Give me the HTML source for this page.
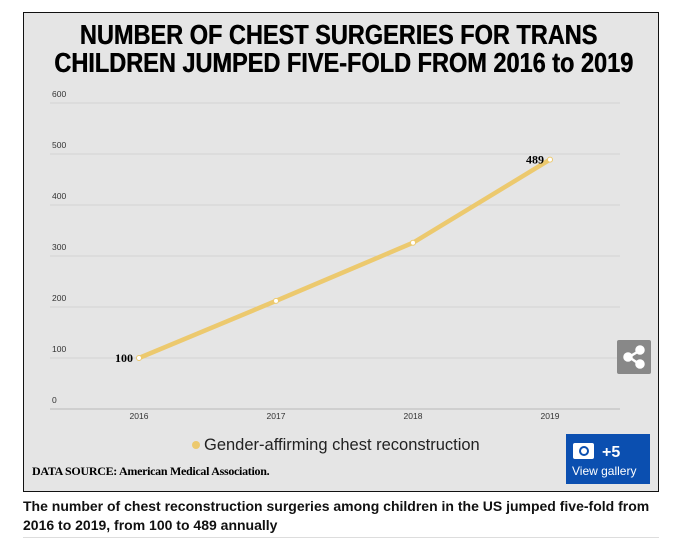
<!DOCTYPE html>
<html><head><meta charset="utf-8"><style>
body{margin:0;width:677px;height:548px;background:#fff;font-family:"Liberation Sans",sans-serif;position:relative;overflow:hidden}
#box{position:absolute;left:23px;top:12px;width:634px;height:478px;border:1px solid #111;background:#e5e5e5}
h1{position:absolute;left:0;width:677px;top:21px;margin:0;text-align:center;white-space:nowrap;font-family:"Liberation Sans",sans-serif;font-weight:bold;font-size:28px;line-height:28px;transform:scaleX(0.84);color:#000;text-shadow:0.5px 0 0 #000}
#src{position:absolute;left:32px;top:464px;font-family:"Liberation Serif",serif;font-weight:bold;font-size:12px;letter-spacing:-0.3px}
#gal{position:absolute;left:566px;top:434px;width:84px;height:50px;background:#0b4fb0;color:#fff}
#share{position:absolute;left:617px;top:340px;width:34px;height:34px;background:#888;border-radius:2px}
#cap{position:absolute;left:23px;top:497px;width:640px;font-size:14px;line-height:19px;font-weight:bold;color:#111}
#rule{position:absolute;left:23px;top:537px;width:636px;height:1px;background:#ddd}
</style></head><body>
<div id="box"></div>
<h1>NUMBER OF CHEST SURGERIES FOR TRANS<br>CHILDREN JUMPED FIVE-FOLD FROM 2016 to 2019</h1>
<svg id="chart" width="677" height="548" style="position:absolute;left:0;top:0"></svg>
<div id="src">DATA SOURCE: American Medical Association.</div>
<div id="share"><svg width="34" height="34"><g fill="#fff" stroke="#fff" stroke-width="2.5"><line x1="12" y1="17" x2="22" y2="11"/><line x1="12" y1="17" x2="22" y2="24"/><circle cx="11" cy="17" r="3.5"/><circle cx="23" cy="10" r="3.5"/><circle cx="23" cy="24" r="3.5"/></g></svg></div>
<div id="gal">
<svg width="84" height="30" style="position:absolute;left:0;top:0"><rect x="7" y="9" width="21" height="16" rx="2" fill="#fff"/><circle cx="18" cy="17" r="5" fill="#0b4fb0"/><circle cx="18" cy="17" r="3" fill="#fff"/><text x="36" y="23" fill="#fff" font-size="16" font-weight="bold" font-family="Liberation Sans">+5</text></svg>
<div style="position:absolute;left:6px;top:30px;font-size:12px">View gallery</div></div>
<div id="cap">The number of chest reconstruction surgeries among children in the US jumped five-fold from 2016 to 2019, from 100 to 489 annually</div>
<div id="rule"></div>
<script>
const years=["2016","2017","2018","2019"];
const values=[100,212,326,489];
const yTicks=[0,100,200,300,400,500,600];
const labeled=[0,3];
const svg=document.getElementById('chart');const NS="http://www.w3.org/2000/svg";
const x0=139,dx=137,y0=409,ys=0.51;
const X=i=>x0+i*dx, Y=v=>y0-v*ys;
function mk(t,a,txt){const e=document.createElementNS(NS,t);for(const k in a)e.setAttribute(k,a[k]);if(txt!=null)e.textContent=txt;svg.appendChild(e);return e;}
yTicks.forEach(v=>{
const g=mk('line',{x1:50,x2:620,y1:Y(v),y2:Y(v),stroke:v===0?'#c8c8c8':'#d2d2d2','stroke-width':v===0?1.5:1});

const t=mk('text',{x:52,y:Y(v)-6,'font-size':8.5,fill:'#333','font-family':'Liberation Sans'},v);
});
years.forEach((y,i)=>{const t=mk('text',{x:X(i),y:419,'font-size':8.5,fill:'#333','text-anchor':'middle','font-family':'Liberation Sans'},y);
});
const p=mk('polyline',{points:values.map((v,i)=>X(i)+','+Y(v)).join(' '),fill:'none',stroke:'#ecc96e','stroke-width':4.5,'stroke-linecap':'round'});

values.forEach((v,i)=>{const c=mk('circle',{cx:X(i),cy:Y(v),r:2.5,fill:'#fff',stroke:'#ecc96e','stroke-width':1});
});
labeled.forEach(i=>{const t=mk('text',{x:X(i)-6,y:Y(values[i])+4,'font-size':12,'font-weight':'bold','text-anchor':'end','font-family':'Liberation Serif'},values[i]);
});
const lc=mk('circle',{cx:196,cy:445,r:4,fill:'#ecc96e'});
const lt=mk('text',{x:204,y:450,'font-size':16.5,fill:'#222','font-family':'Liberation Sans'},'Gender-affirming chest reconstruction');

</script>
</body></html>
